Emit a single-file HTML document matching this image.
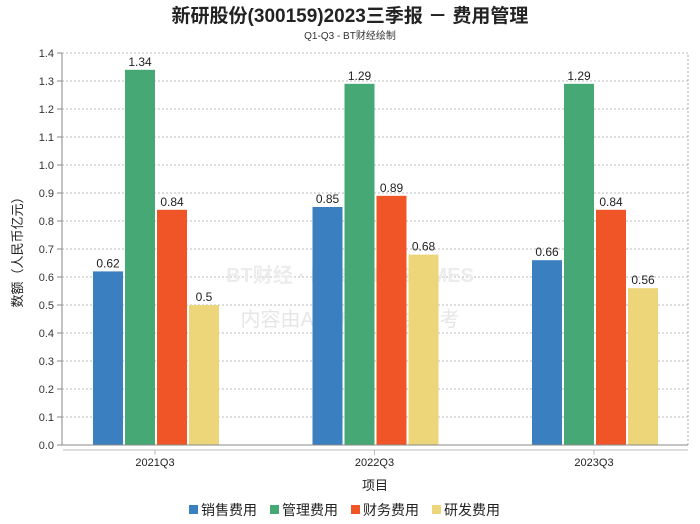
<!DOCTYPE html>
<html><head><meta charset="utf-8">
<style>
body{margin:0;background:#fff;}
svg{display:block;font-family:"Liberation Sans","Noto Sans CJK SC",sans-serif;}
</style></head>
<body>
<svg id="chart" width="700" height="524" viewBox="0 0 700 524">
<text x="350" y="22" text-anchor="middle" font-size="19" font-weight="bold" fill="#222">新研股份(300159)2023三季报 － 费用管理</text>
<text x="350" y="39" text-anchor="middle" font-size="10" fill="#333">Q1-Q3 - BT财经绘制</text>
<rect x="62" y="53" width="626" height="392" fill="none" stroke="#aaa" stroke-dasharray="2,2"/>
<g id="grid"></g>
<text x="350" y="282" text-anchor="middle" font-size="20" fill="#ececec" font-weight="bold">BT财经 · BUSINESSTIMES</text>
<text x="350" y="326" text-anchor="middle" font-size="20" fill="#e6e6e6">内容由AI生成，仅供参考</text>
<g id="bars"></g>
<line x1="62" y1="53" x2="62" y2="445" stroke="#888"/>
<line x1="62" y1="445" x2="688" y2="445" stroke="#888"/>
<line x1="63" y1="450" x2="688" y2="450" stroke="#bbb"/>
<text x="22" y="249" text-anchor="middle" font-size="13" fill="#222" transform="rotate(-90 22 249)">数额（人民币亿元）</text>
<text x="375" y="490" text-anchor="middle" font-size="13" fill="#222">项目</text>
<g id="legend"></g>
</svg>
<script>
const categories = ["2021Q3","2022Q3","2023Q3"];
const seriesNames = ["销售费用","管理费用","财务费用","研发费用"];
const sales = [0.62,0.85,0.66];
const admin = [1.34,1.29,1.29];
const finance = [0.84,0.89,0.84];
const rnd = [0.5,0.68,0.56];
const yTicks = [0,0.1,0.2,0.3,0.4,0.5,0.6,0.7,0.8,0.9,1.0,1.1,1.2,1.3,1.4];
const colors = ["#3a7fbf","#46a874","#f05527","#edd57a"];
const series = [sales, admin, finance, rnd];
const NS = "http://www.w3.org/2000/svg";
const y = v => 445 - v / 1.4 * 392;
const xCenter = i => 155 + i * 219.5;
function mk(tag, attrs){const e=document.createElementNS(NS,tag);for(const k in attrs)e.setAttribute(k,attrs[k]);return e;}
const grid=document.getElementById('grid');
yTicks.forEach(t=>{
  if(t>0){const l=mk('line',{x1:62,x2:688,y1:y(t),y2:y(t),stroke:'#bbb','stroke-dasharray':'2,2'});
  
  
  grid.appendChild(l);}
  const tk=mk('line',{x1:57,x2:62,y1:y(t),y2:y(t),stroke:'#888'});
  
  
  grid.appendChild(tk);
  const tx=mk('text',{x:54,y:y(t)+4,'text-anchor':'end','font-size':11,fill:'#333'});
  tx.textContent=t.toFixed(1);
  
  
  grid.appendChild(tx);
});
const bars=document.getElementById('bars');
categories.forEach((c,i)=>{
  const cx=xCenter(i);
  series.forEach((s,j)=>{
    const x0=cx-62+j*32;
    const r=mk('rect',{x:x0,y:y(s[i]),width:30,height:445-y(s[i]),fill:colors[j]});
    
    
    bars.appendChild(r);
    const t=mk('text',{x:x0+15,y:y(s[i])-4,'text-anchor':'middle','font-size':12,fill:'#222'});
    t.textContent=String(s[i]);
    
    
    bars.appendChild(t);
  });
  const tk=mk('line',{x1:cx,x2:cx,y1:450,y2:455,stroke:'#bbb'});
  
  
  bars.appendChild(tk);
  const lb=mk('text',{x:cx,y:466,'text-anchor':'middle','font-size':11,fill:'#222'});
  lb.textContent=c;
  
  
  bars.appendChild(lb);
});
const legend=document.getElementById('legend');
let lx=189;
seriesNames.forEach((n,j)=>{
  const r=mk('rect',{x:lx,y:505,width:9,height:9,fill:colors[j]});
  
  
  legend.appendChild(r);
  const t=mk('text',{x:lx+12,y:515,'font-size':14,fill:'#222'});
  t.textContent=n;
  
  
  legend.appendChild(t);
  lx+=81;
});
</script>
</body></html>
